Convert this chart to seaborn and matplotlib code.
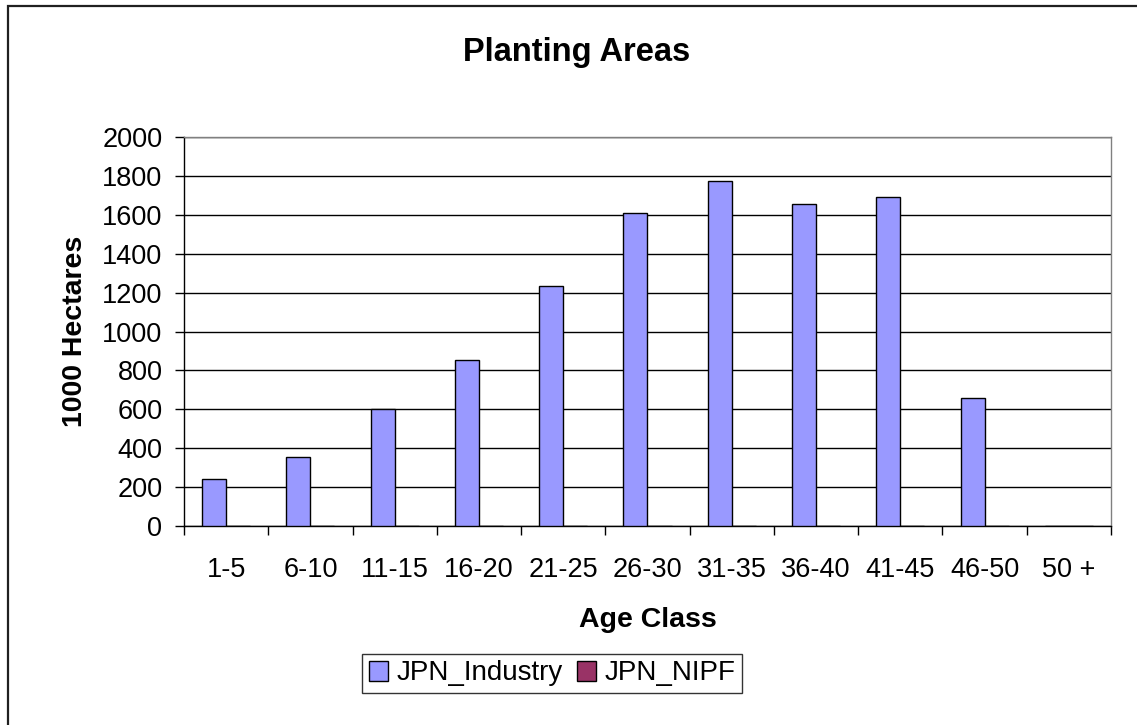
import numpy as np
import pandas as pd
import matplotlib
matplotlib.use("Agg")
import matplotlib.pyplot as plt
import seaborn as sns
from matplotlib.patches import Rectangle, Patch

categories = ["1-5", "6-10", "11-15", "16-20", "21-25", "26-30", "31-35", "36-40", "41-45", "46-50", "50 +"]
industry = [240, 353, 600, 852, 1235, 1611, 1772, 1657, 1691, 659, 0]
nipf = [0, 0, 0, 0, 0, 0, 0, 0, 0, 0, 0]
series_names = ["JPN_Industry", "JPN_NIPF"]
series_colors = ["#9999FF", "#993366"]
y_ticks = list(range(0, 2001, 200))

sns.set_theme(style="white")
plt.rcParams["font.family"] = ["Liberation Sans", "DejaVu Sans"]
plt.rcParams["text.color"] = "black"
plt.rcParams["axes.labelcolor"] = "black"

df = pd.DataFrame({
    "Age Class": categories * 2,
    "value": industry + nipf,
    "series": [series_names[0]] * len(categories) + [series_names[1]] * len(categories),
})

W, H = 1137, 725
fig = plt.figure(figsize=(W / 100, H / 100), dpi=100)
fig.patch.set_facecolor("white")
L, R, T, B = 184, 1111, 137, 526
ax = fig.add_axes([L / W, 1 - B / H, (R - L) / W, (B - T) / H])

sns.barplot(data=df, x="Age Class", y="value", hue="series", order=categories,
            hue_order=series_names, palette=series_colors, saturation=1,
            width=2 / 3.5, gap=0, edgecolor="black", linewidth=1, ax=ax,
            zorder=3)

if ax.get_legend() is not None:
    ax.get_legend().remove()

ax.set_xlim(-0.5, len(categories) - 0.5)
ax.set_ylim(0, 2000)
ax.set_yticks(y_ticks)
ax.set_yticklabels([str(v) for v in y_ticks])
ax.yaxis.grid(True, color="black", linewidth=1, zorder=0)
ax.set_axisbelow(True)

ax.set_xticks(np.arange(-0.5, len(categories), 1), minor=True)
ax.tick_params(axis="x", which="major", length=0, pad=22, labelsize=19.5, colors="black")
ax.tick_params(axis="x", which="minor", length=6.5, width=1, direction="out", color="black", bottom=True)
ax.tick_params(axis="y", which="major", length=6.5, width=1, direction="out", pad=9,
               labelsize=19.5, colors="black", left=True)

for s in ["left", "bottom"]:
    ax.spines[s].set_color("black")
    ax.spines[s].set_linewidth(1)
for s in ["top", "right"]:
    ax.spines[s].set_color("#808080")
    ax.spines[s].set_linewidth(1)
    ax.spines[s].set_visible(True)

ax.set_xlabel("Age Class", fontsize=20.5, fontweight="bold", color="black")
ax.xaxis.set_label_coords(0.5, (B - 620) / (B - T))
ax.xaxis.label.set_verticalalignment("center")
ax.set_ylabel("1000 Hectares", fontsize=20.5, fontweight="bold", color="black")
ax.yaxis.label.set_rotation_mode("default")
ax.yaxis.label.set_horizontalalignment("center")
ax.yaxis.label.set_verticalalignment("center")
ax.yaxis.set_label_coords((75 - L) / (R - L), 0.5)

fig.text(577 / W, 1 - 52 / H, "Planting Areas", fontsize=23.5, fontweight="bold",
         ha="center", va="center", color="black")

leg_handles = [Patch(facecolor=c, edgecolor="black", linewidth=1) for c in series_colors]
leg = fig.legend(leg_handles, series_names, loc="center", ncol=2,
                 bbox_to_anchor=(552 / W, 1 - 673.5 / H), fontsize=20,
                 frameon=True, fancybox=False, edgecolor="black", borderpad=0.25,
                 handlelength=0.7, handleheight=0.7, handletextpad=0.3,
                 columnspacing=0.5, borderaxespad=0, labelcolor="black")
leg.get_frame().set_linewidth(1)

fig.add_artist(Rectangle((8 / W, -0.05), 1.2, 1 - 6 / H + 0.05, fill=False,
                         edgecolor="#202020", linewidth=1.6, transform=fig.transFigure))

fig.savefig("out.png", dpi=100, facecolor="white")
